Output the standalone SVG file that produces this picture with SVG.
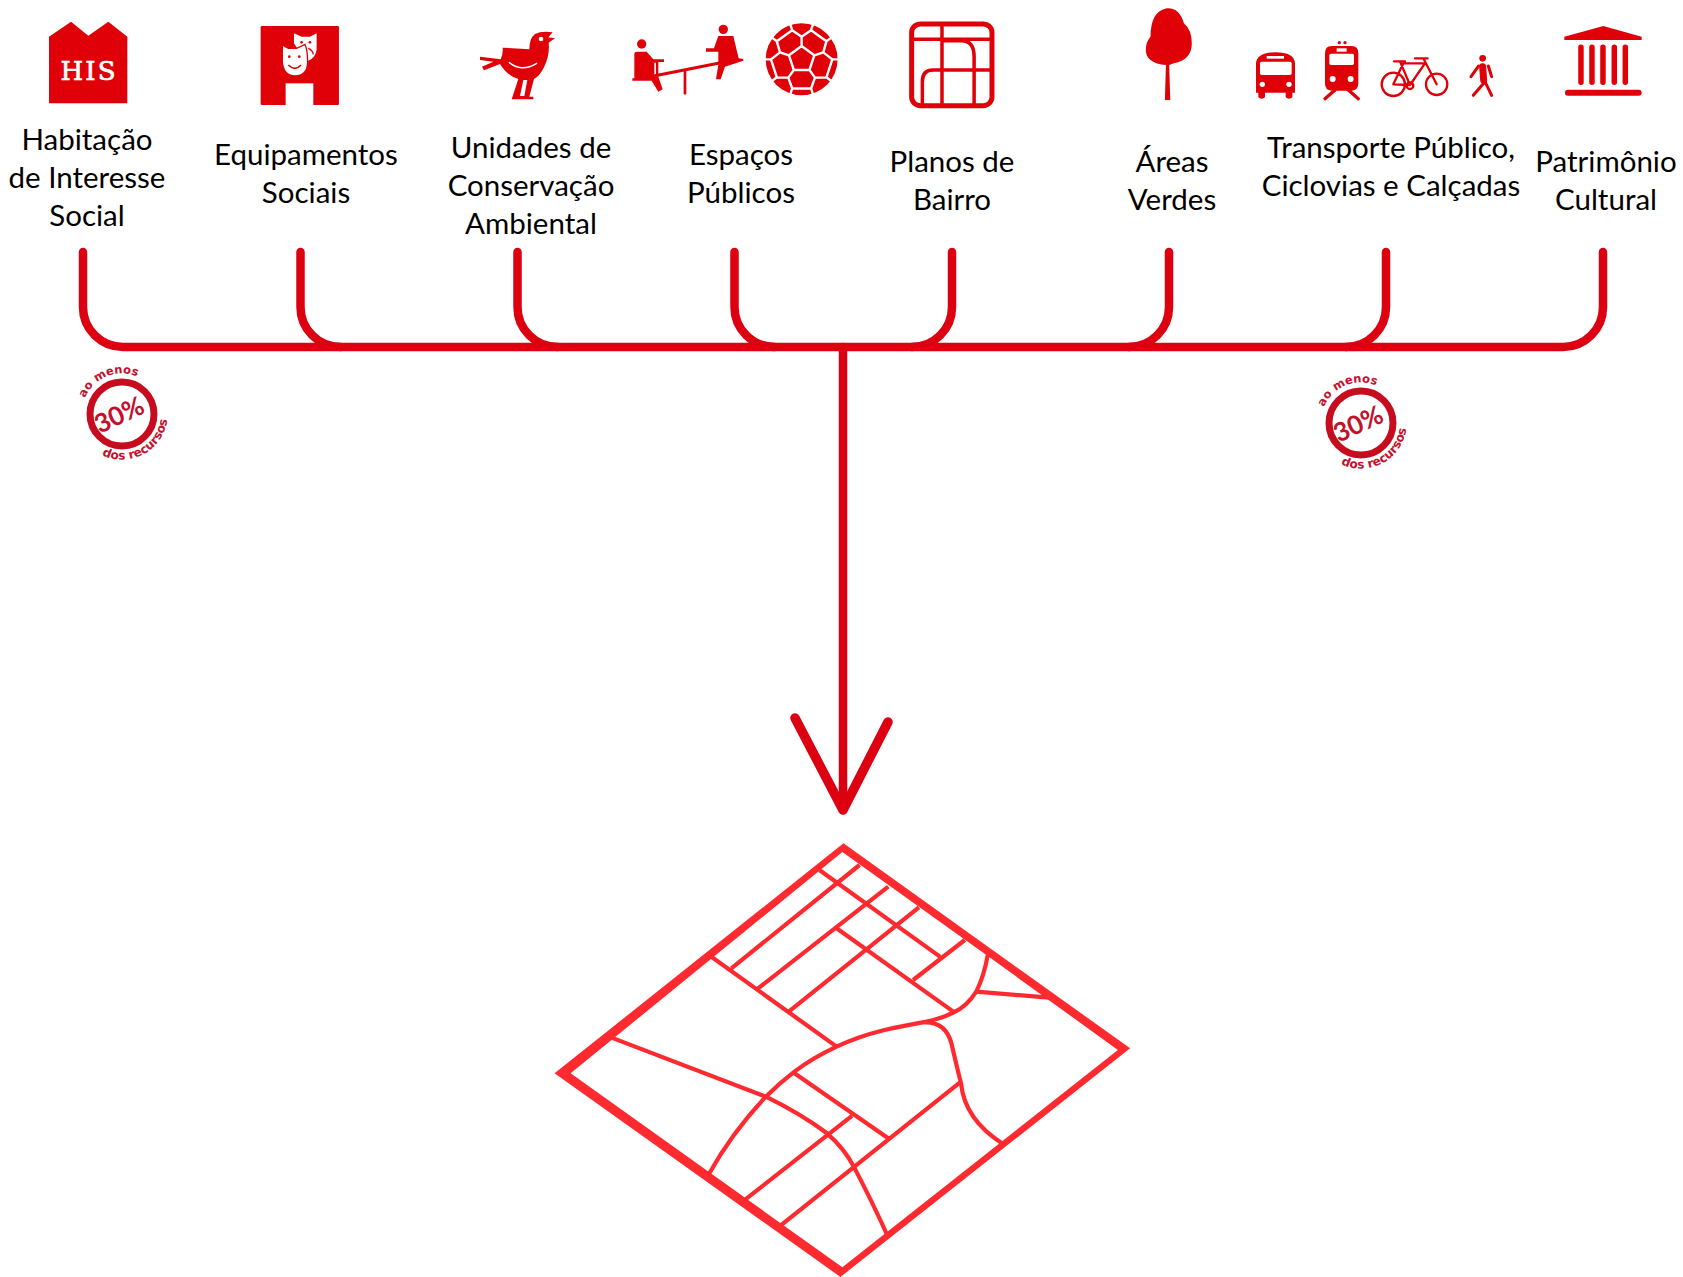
<svg xmlns="http://www.w3.org/2000/svg" width="1683" height="1277" viewBox="0 0 1683 1277">
<defs>
<style>
text{font-family:"Lato","Liberation Sans",sans-serif}
.lb{font-size:29.500px;fill:#000;text-anchor:middle}
.r{fill:#e00008}
.w{fill:#fff}
.ln{fill:none;stroke:#e00008;stroke-linecap:round;stroke-linejoin:round;vector-effect:non-scaling-stroke}
.wl{fill:none;stroke:#fff;stroke-linecap:round;stroke-linejoin:round;vector-effect:non-scaling-stroke}
.cn{fill:none;stroke:#dc0010;stroke-width:8.500;stroke-linecap:round;stroke-linejoin:round}
.rd{fill:none;stroke:#ff2a2f;stroke-width:4.200;stroke-linejoin:round;vector-effect:non-scaling-stroke}
.bt{fill:#c4102c;font-family:"DejaVu Sans",sans-serif;font-weight:bold}
</style>
<path id="arcTop" d="M-37,-16 A40,40 0 0 1 30,-27"/>
<path id="arcBot" d="M-20,41 A45.500,45.500 0 0 0 45.500,0"/>
<g id="badge">
<circle r="32" fill="none" stroke="#c80c20" stroke-width="7"/>
<text font-size="26" fill="#c4102c" text-anchor="middle" font-weight="700" transform="translate(1 9) rotate(-25)">30%</text>
<text class="bt" font-size="11.500"><textPath href="#arcTop">ao menos</textPath></text>
<text class="bt" font-size="12"><textPath href="#arcBot">dos recursos</textPath></text>
</g>
</defs>
<rect width="1683" height="1277" fill="#fff"/>

<g id="connectors">
<path class="cn" d="M83,252 V307 A40,40 0 0 0 123,347 H1563 A40,40 0 0 0 1603,307 V252"/>
<path class="cn" d="M300.500,252 V307 A40,40 0 0 0 340.500,347"/>
<path class="cn" d="M517.500,252 V307 A40,40 0 0 0 557.500,347"/>
<path class="cn" d="M734.500,252 V307 A40,40 0 0 0 774.500,347"/>
<path class="cn" d="M952,252 V307 A40,40 0 0 1 912,347"/>
<path class="cn" d="M1169,252 V307 A40,40 0 0 1 1129,347"/>
<path class="cn" d="M1386,252 V307 A40,40 0 0 1 1346,347"/>
<path class="cn" d="M843,347 V808"/>
<path class="cn" style="stroke-width:9.500" d="M795,718 L843,810 L888,722"/>
</g>

<g id="node-habitacao">
<g transform="translate(40 0) scale(.3333)">
<polygon class="r" points="27,310 27,110 93,65 145,107 205,65 262,110 262,310"/>
</g>
<text x="88" y="80" fill="#fff" stroke="#fff" stroke-width=".7" text-anchor="middle" font-size="26" textLength="55" lengthAdjust="spacing" style="font-family:'DejaVu Serif',serif">HIS</text>
<text class="lb" x="87" y="150">Habitação</text>
<text class="lb" x="87" y="188">de Interesse</text>
<text class="lb" x="87" y="226">Social</text>
<use href="#badge" x="122" y="414"/>
</g>

<g id="node-equipamentos">
<g transform="translate(40 0) scale(.3333)">
<rect class="r" x="662" y="78" width="235" height="237" rx="4"/>
<rect class="w" x="737" y="250" width="83" height="66"/>
<path class="w" d="M762,100 L785,110 H810 L830,100 V150 Q825,175 805,182 L775,150 L762,130 Z"/>
<circle class="r" cx="785" cy="127" r="4"/><circle class="r" cx="810" cy="127" r="4"/>
<path d="M805,145 Q818,150 820,163" fill="none" stroke="#e00008" stroke-width="4"/>
<path class="w" d="M727,135 L745,145 H770 L795,133 Q803,150 803,190 Q800,228 765,228 Q730,228 727,185 Z" stroke="#e00008" stroke-width="4"/>
<circle class="r" cx="748" cy="170" r="4"/><circle class="r" cx="778" cy="170" r="4"/>
<path d="M745,195 Q765,215 783,195" fill="none" stroke="#e00008" stroke-width="5"/>
</g>
<text class="lb" x="306" y="165">Equipamentos</text>
<text class="lb" x="306" y="203">Sociais</text>
</g>

<g id="node-unidades">
<g transform="translate(470 10) scale(.3333)">
<path class="r" d="M98,113 L178,118 Q178,85 195,72 Q215,62 248,67 L235,82 L255,85 L236,98 Q240,135 222,172 Q208,200 192,207 L178,260 H190 V268 H125 L145,207 Q112,198 90,162 L42,181 L36,170 L70,155 L30,150 V140 L92,148 Q100,130 98,113 Z"/>
<path class="w" d="M160,210 L150,258 H163 L172,210 Z"/>
<circle class="w" cx="213" cy="87" r="7"/>
<path class="wl" style="stroke-width:1.500" d="M118,158 Q155,188 200,160"/>
</g>
<text class="lb" x="531" y="158">Unidades de</text>
<text class="lb" x="531" y="196">Conservação</text>
<text class="lb" x="531" y="234">Ambiental</text>
</g>

<g id="node-espacos">
<g transform="translate(470 10) scale(.3333)">
<circle class="r" cx="515" cy="102" r="14"/>
<path class="r" d="M493,132 Q493,125 500,125 H530 L550,148 H582 V156 H565 V200 L578,238 L565,245 L545,212 H487 V205 H493 Z"/>
<path class="w" d="M553,158 H558 V195 H553 Z"/>
<path class="ln" style="stroke-width:3" d="M555,197 L760,157"/>
<path class="ln" style="stroke-width:2.700" d="M645,185 V250"/>
<circle class="r" cx="760" cy="58" r="14"/>
<path class="r" d="M745,78 H790 L806,145 L820,147 V152 L765,170 L752,208 L738,208 L745,165 L745,125 H708 V115 H732 Z"/>
<circle class="r" cx="995" cy="148" r="108"/>
<path class="wl" style="stroke-width:2.400" d="M995,108 L1033,136 L1018.500,180 H971.500 L957,136 Z M966.600,60.500 L995,80 L1023.400,60.500 L1069.400,94 L1060,127 L1087,148 L1069.400,202 L1035,203 L1023.400,235.500 H966.600 L955,203 L920.600,202 L903,148 L930,127 L920.600,94 Z M995,108 V80 M1033,136 L1060,127 M1018.500,180 L1035,203 M971.500,180 L955,203 M957,136 L930,127 M966.600,60.500 L961,43 M1023.400,60.500 L1029,43 M1069.400,94 L1084,83 M1087,148 H1105 M1069.400,202 L1084,213 M1023.400,235.500 L1029,253 M966.600,235.500 L961,253 M920.600,202 L906,213 M903,148 H885 M920.600,94 L906,83"/>
</g>
<text class="lb" x="741" y="165">Espaços</text>
<text class="lb" x="741" y="203">Públicos</text>
</g>

<g id="node-planos">
<g transform="translate(560 0) scale(.357 .3333)">
<rect class="ln" style="stroke-width:5" x="985" y="72" width="225" height="245" rx="25"/>
<path class="ln" style="stroke-width:3.500;stroke-linecap:butt" d="M985,118 H1210 M1070,72 V317 M1070,122 H1125 Q1160,122 1160,170 V317 M1210,210 H1045 Q1015,210 1015,245 V317"/>
</g>
<text class="lb" x="952" y="172">Planos de</text>
<text class="lb" x="952" y="210">Bairro</text>
</g>

<g id="node-areas">
<g transform="translate(1120 0) scale(.359 .3333)">
<path class="r" d="M130,25 Q165,22 178,70 Q200,90 200,130 Q200,180 150,190 L137,195 L140,300 H125 L128,195 Q72,190 72,150 Q72,125 85,110 Q85,35 130,25 Z"/>
</g>
<text class="lb" x="1172" y="172">Áreas</text>
<text class="lb" x="1172" y="210">Verdes</text>
</g>

<g id="node-transporte">
<g transform="translate(1240 20) scale(.3333)">
<path class="r" d="M48,130 Q50,97 106,97 Q163,97 165,130 V218 H157 V232 Q147,240 137,232 V218 H75 V232 Q65,240 55,232 V218 H48 Z"/>
<rect class="w" x="80" y="108" width="52" height="8"/>
<rect class="w" x="60" y="125" width="95" height="40" rx="5"/>
<circle class="w" cx="67" cy="193" r="8"/><circle class="w" cx="147" cy="193" r="8"/>
<circle class="r" cx="298" cy="68" r="5"/><circle class="r" cx="315" cy="68" r="5"/>
<path class="r" d="M255,100 Q255,78 275,78 H335 Q355,78 355,100 V190 Q355,212 335,212 H275 Q255,212 255,190 Z"/>
<rect class="w" x="290" y="85" width="30" height="10"/>
<rect class="w" x="268" y="101" width="74" height="34" rx="5"/>
<circle class="w" cx="278" cy="177" r="9"/><circle class="w" cx="332" cy="177" r="9"/>
<path class="ln" style="stroke-width:3.300" d="M285,210 L255,236 M325,210 L355,236"/>
<circle class="ln" style="stroke-width:2.300" cx="460" cy="193" r="35"/>
<circle class="ln" style="stroke-width:2.300" cx="590" cy="193" r="32"/>
<circle class="ln" style="stroke-width:2.300" cx="510" cy="197" r="10"/>
<path class="ln" style="stroke-width:2.300" d="M460,193 L490,130 H555 L510,195 Z M480,124 L510,195 M550,115 L590,193 M525,115 H563 M462,124 H495"/>
<circle class="r" cx="728" cy="115" r="10"/>
<path class="ln" style="stroke-width:7" d="M728,140 L731,180"/>
<path class="ln" style="stroke-width:3" d="M716,138 L693,170 M745,138 L755,170 M735,185 L700,226 M735,185 L755,226"/>
</g>
<text class="lb" x="1391" y="158">Transporte Público,</text>
<text class="lb" x="1391" y="196">Ciclovias e Calçadas</text>
<use href="#badge" x="1361" y="423"/>
</g>

<g id="node-patrimonio">
<g transform="translate(1240 20) scale(.3333)">
<polygon class="r" points="973,50 1090,18 1205,50 1205,60 973,60"/>
<path class="ln" style="stroke-width:5.500" d="M1023,82 V187 M1056,82 V187 M1089,82 V187 M1123,82 V187 M1156,82 V187"/>
<path class="ln" style="stroke-width:6" d="M984,218 H1196"/>
</g>
<text class="lb" x="1606" y="172">Patrimônio</text>
<text class="lb" x="1606" y="210">Cultural</text>
</g>

<g id="map" transform="translate(540 830) scale(.3827 .3333)">
<path fill="#ff2a2f" fill-rule="evenodd" d="M793,40 L1542,655 L785,1341 L38,730 Z M790,66 L1170,378 L1510,660 L790,1312 L80,730 Z"/>
<path class="rd" d="M730,120 L1045,380 M835,105 L500,415 M910,170 L570,475 M990,232 L650,545 M1110,330 L975,450 M445,378 L775,650 M775,295 L1080,545"/>
<path class="rd" d="M1170,375 Q1160,440 1140,485 Q1115,530 1080,548 Q1050,565 1010,575 Q940,590 900,600 Q830,620 775,650 Q710,685 665,725 Q625,760 590,800 Q500,910 440,1035"/>
<path class="rd" d="M1140,485 L1330,503"/>
<path class="rd" d="M1005,577 Q1060,575 1075,640 Q1085,690 1100,760 Q1110,870 1210,942"/>
<path class="rd" d="M180,620 L590,800 Q680,850 750,910 Q795,955 820,1010 Q870,1120 910,1222"/>
<path class="rd" d="M665,730 L910,925 M1100,755 L625,1190 M815,858 L535,1110"/>
</g>
</svg>
